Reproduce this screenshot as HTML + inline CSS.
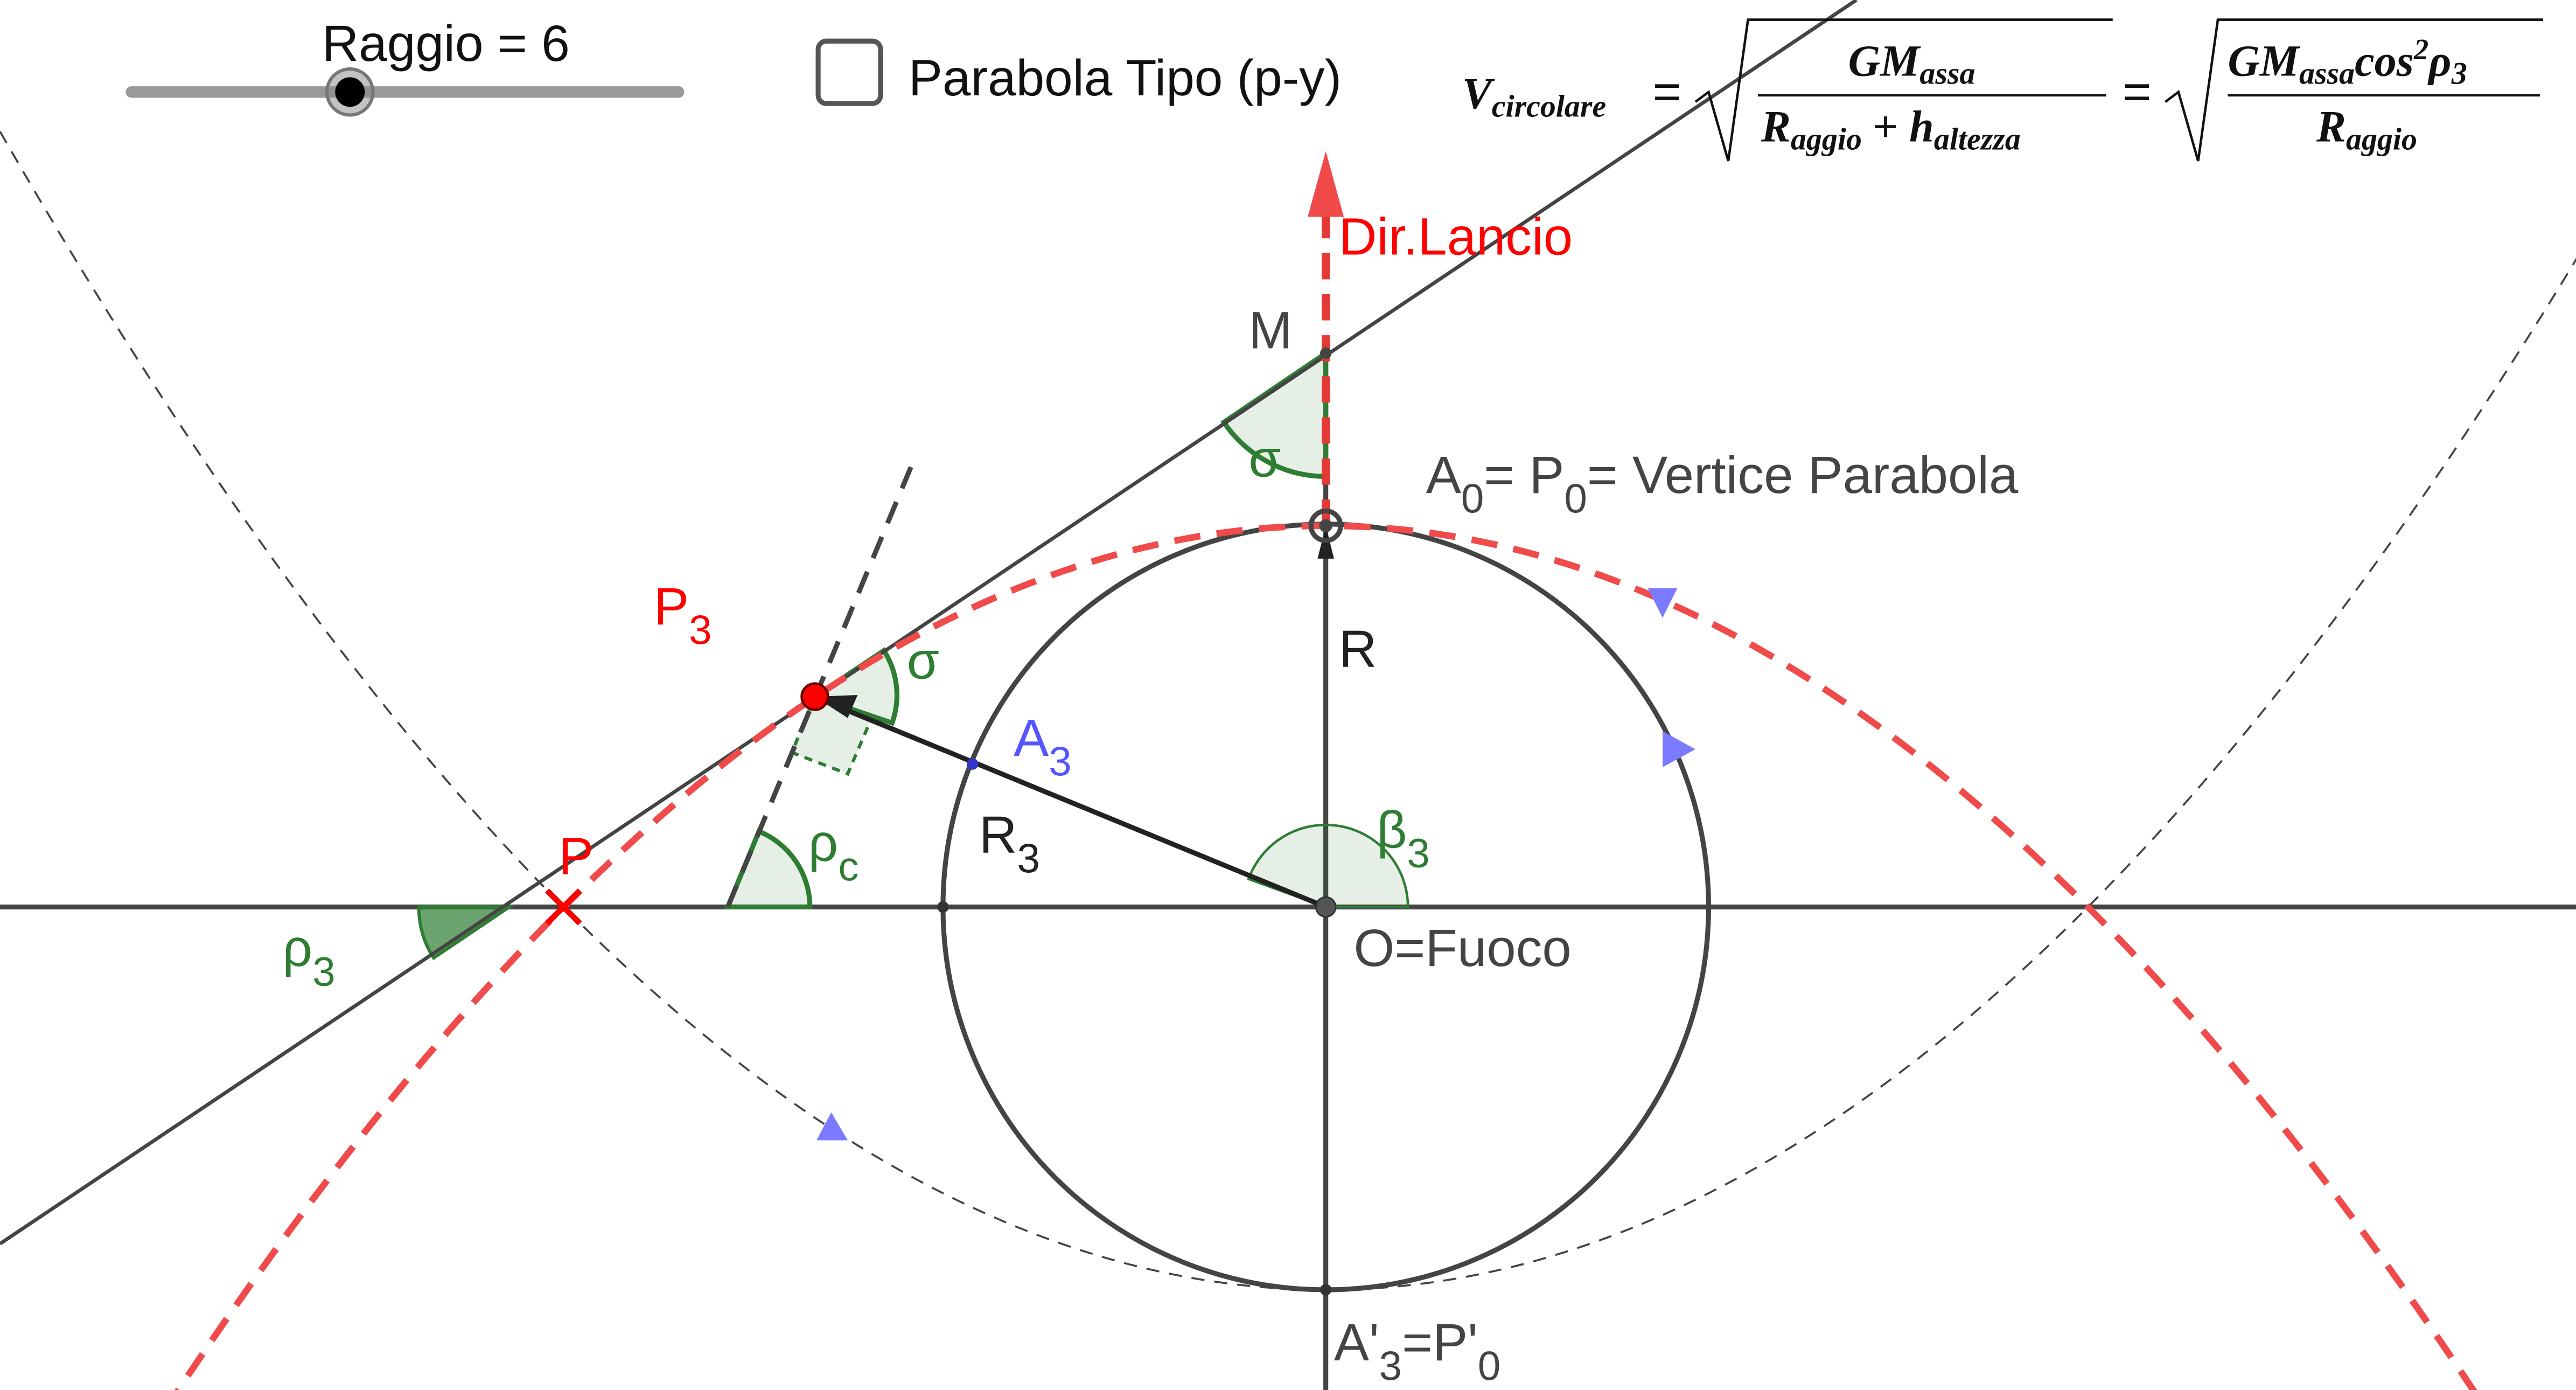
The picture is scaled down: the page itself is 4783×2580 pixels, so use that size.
<!DOCTYPE html>
<html><head><meta charset="utf-8"><style>
html,body{margin:0;padding:0;background:#fff;overflow:hidden}
svg{display:block}
text{font-family:"Liberation Sans",sans-serif}
.s{font-family:"Liberation Serif",serif;font-weight:bold;font-style:italic}
</style></head><body>
<svg width="4783" height="2580" viewBox="0 0 1568 846" preserveAspectRatio="none" xmlns="http://www.w3.org/2000/svg">
<rect width="1568" height="846" fill="#fff"/>
<path d="M0,80 Q807,1490 1614,80" fill="none" stroke="#444" stroke-width="1.2" stroke-dasharray="8,6"/>
<line x1="0" y1="552" x2="1568" y2="552" stroke="#444" stroke-width="3"/>
<line x1="807" y1="215" x2="807" y2="846" stroke="#444" stroke-width="3"/>
<circle cx="807" cy="552" r="233" fill="none" stroke="#444" stroke-width="3"/>
<path d="M310,552 L255,552 A55,55 0 0 0 264,583 Z" fill="#2e7d32" fill-opacity="0.7" stroke="#2e7d32" stroke-width="2"/>
<path d="M443,552 L493,552 A50,50 0 0 0 462,506 Z" fill="#2e7d32" fill-opacity="0.12" stroke="#2e7d32" stroke-width="3"/>
<path d="M807,215 L807,290 A75,75 0 0 1 745,257 Z" fill="#2e7d32" fill-opacity="0.12" stroke="#2e7d32" stroke-width="3"/>
<path d="M496,424 L538,396 A50,50 0 0 1 543,440 Z" fill="#2e7d32" fill-opacity="0.12" stroke="#2e7d32" stroke-width="3"/>
<path d="M807,552 L857,552 A50,50 0 0 0 760,535 Z" fill="#2e7d32" fill-opacity="0.12" stroke="#2e7d32" stroke-width="1.5"/>
<path d="M496,424 L482,458 L516,471 L531,436" fill="#2e7d32" fill-opacity="0.12" stroke="#2e7d32" stroke-width="2" stroke-dasharray="5,4"/>
<line x1="0" y1="757" x2="1130" y2="0" stroke="#444" stroke-width="2.2"/>
<line x1="443" y1="552" x2="555" y2="283" stroke="#444" stroke-width="3" stroke-dasharray="14,9"/>
<path d="M100,859 Q807,-219 1514,859" fill="none" stroke="#f04a4a" stroke-width="4" stroke-dasharray="16,10"/>
<line x1="807" y1="320" x2="807" y2="128" stroke="#e53935" stroke-width="5" stroke-dasharray="16,9"/>
<polygon points="807,92 796,132 818,132" fill="#f04a4a"/>
<line x1="807" y1="552" x2="505" y2="428" stroke="#222" stroke-width="3"/>
<polygon points="496,424 522,423 516,437" fill="#222"/>
<polygon points="807,320 802,340 812,340" fill="#222"/>
<polygon points="1003,358 1021,358 1012,376" fill="#7b7bff"/>
<polygon points="1012,445 1032,456 1012,467" fill="#7b7bff"/>
<polygon points="506,677 497,694 516,694" fill="#7b7bff"/>
<circle cx="807" cy="215" r="3.5" fill="#444"/>
<circle cx="807" cy="320" r="9" fill="none" stroke="#444" stroke-width="3"/>
<circle cx="807" cy="320" r="4" fill="#444"/>
<circle cx="807" cy="552" r="6" fill="#555" stroke="#333"/>
<circle cx="574" cy="552" r="3.5" fill="#333"/>
<circle cx="807" cy="785" r="3.5" fill="#333"/>
<circle cx="592" cy="465" r="3.5" fill="#33c" />
<circle cx="496" cy="424" r="8" fill="#f00" stroke="#600" stroke-width="1.5"/>
<path d="M333,542 L353,562 M353,542 L333,562" stroke="#f00" stroke-width="3.5"/>
<g font-size="32">
<text x="760" y="212" fill="#444">M</text>
<text x="815" y="155" fill="#f00">Dir.Lancio</text>
<text x="760" y="290" fill="#2e7d32">σ</text>
<text x="868" y="300" fill="#444">A<tspan dy="12" font-size="25">0</tspan><tspan dy="-12">= P</tspan><tspan dy="12" font-size="25">0</tspan><tspan dy="-12">= Vertice Parabola</tspan></text>
<text x="398" y="380" fill="#f00">P<tspan dy="12" font-size="25">3</tspan></text>
<text x="552" y="413" fill="#2e7d32">σ</text>
<text x="815" y="406" fill="#222">R</text>
<text x="617" y="460" fill="#55f">A<tspan dy="12" font-size="25">3</tspan></text>
<text x="596" y="519" fill="#222">R<tspan dy="12" font-size="25">3</tspan></text>
<text x="492" y="524" fill="#2e7d32">ρ<tspan dy="12" font-size="25">c</tspan></text>
<text x="838" y="516" fill="#2e7d32">β<tspan dy="12" font-size="25">3</tspan></text>
<text x="340" y="532" fill="#f00">P</text>
<text x="172" y="588" fill="#2e7d32">ρ<tspan dy="12" font-size="25">3</tspan></text>
<text x="824" y="588" fill="#444">O=Fuoco</text>
<text x="812" y="828" fill="#444">A'<tspan dy="12" font-size="25">3</tspan><tspan dy="-12">=P'</tspan><tspan dy="12" font-size="25">0</tspan></text>
</g>
<line x1="80" y1="56" x2="413" y2="56" stroke="#999" stroke-width="7" stroke-linecap="round"/>
<circle cx="213" cy="56" r="14" fill="#888" fill-opacity="0.5" stroke="#777" stroke-width="2"/>
<circle cx="213" cy="56" r="9" fill="#000"/>
<text x="196" y="37" font-size="31" fill="#111">Raggio = 6</text>
<rect x="498" y="25" width="38" height="38" rx="5" fill="#fff" stroke="#555" stroke-width="3"/>
<text x="553" y="58" font-size="31" fill="#111">Parabola Tipo (p-y)</text>
<g fill="#111">
<text class="s" x="890" y="66" font-size="27">V<tspan font-size="19" dy="5">circolare</tspan></text>
<text x="1006" y="66" font-size="30">=</text>
<path d="M1032,62 L1040,56 L1052,98 L1064,12 L1286,12" fill="none" stroke="#111" stroke-width="1.5"/>
<text class="s" x="1125" y="46" font-size="27">GM<tspan font-size="19" dy="5">assa</tspan></text>
<line x1="1070" y1="58" x2="1282" y2="58" stroke="#111" stroke-width="1.5"/>
<text class="s" x="1072" y="86" font-size="27">R<tspan font-size="19" dy="5">aggio</tspan><tspan dy="-5" font-size="27" font-style="normal"> + </tspan>h<tspan font-size="19" dy="5">altezza</tspan></text>
<text x="1292" y="66" font-size="30">=</text>
<path d="M1318,62 L1326,56 L1338,98 L1350,12 L1548,12" fill="none" stroke="#111" stroke-width="1.5"/>
<text class="s" x="1356" y="46" font-size="27">GM<tspan font-size="19" dy="5">assa</tspan><tspan dy="-5">cos</tspan><tspan font-size="18" dy="-10">2</tspan><tspan dy="10">ρ</tspan><tspan font-size="19" dy="5">3</tspan></text>
<line x1="1356" y1="58" x2="1546" y2="58" stroke="#111" stroke-width="1.5"/>
<text class="s" x="1410" y="86" font-size="27">R<tspan font-size="19" dy="5">aggio</tspan></text>
</g>
</svg>
</body></html>
